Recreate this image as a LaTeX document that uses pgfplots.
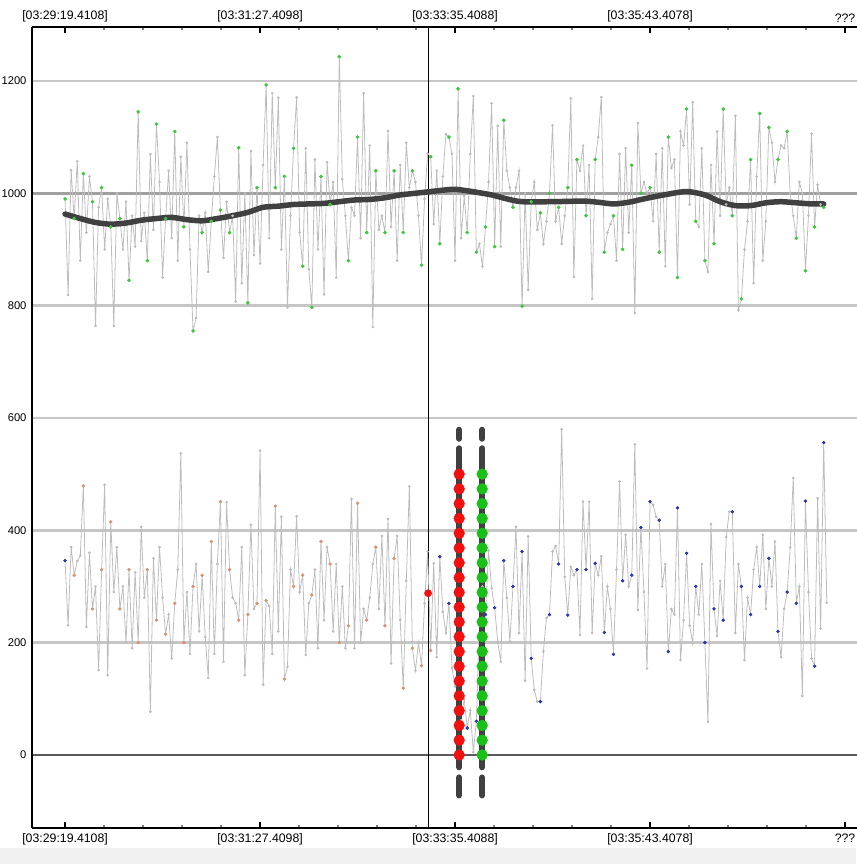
\documentclass[border=0pt]{standalone}
\usepackage{fontspec}
\setmainfont{Liberation Sans}
\usepackage{pgfplots}
\usepackage{pgfplotstable}
\pgfplotsset{compat=1.18}
\definecolor{gridc}{HTML}{C6C6C6}
\definecolor{gridd}{HTML}{A0A0A0}
\definecolor{zeroc}{HTML}{5A5A5A}
\definecolor{linec}{HTML}{BDBDBD}
\definecolor{markc}{HTML}{9A9A9A}
\definecolor{greenm}{HTML}{3CC83C}
\definecolor{orangem}{HTML}{DC9470}
\definecolor{bluem}{HTML}{2A34B0}
\definecolor{avgc}{HTML}{404040}
\definecolor{reddot}{HTML}{F01010}
\definecolor{greendot}{HTML}{18C018}
\definecolor{stripc}{HTML}{F0F0F0}

\pgfplotstableread[row sep=\\]{
t y\\
0 990\\ 2 819\\ 4 1041\\ 6 955\\ 8 1057\\ 10 880\\ 12 1035\\ 14 930\\ 16 1030\\ 18 985\\
20 764\\ 22 975\\ 24 1010\\ 26 900\\ 28 990\\ 30 940\\ 32 764\\ 34 1000\\ 36 955\\ 38 900\\
40 985\\ 42 845\\ 44 960\\ 46 905\\ 48 1145\\ 50 915\\ 52 965\\ 54 880\\ 56 1070\\ 58 935\\
60 1123\\ 62 1020\\ 64 850\\ 66 955\\ 68 1040\\ 70 920\\ 72 1110\\ 74 880\\ 76 1065\\ 78 940\\
80 1090\\ 82 900\\ 84 755\\ 86 778\\ 88 960\\ 90 930\\ 92 965\\ 94 860\\ 96 950\\ 98 1030\\
100 1100\\ 102 970\\ 104 885\\ 106 985\\ 108 930\\ 110 960\\ 112 807\\ 114 1081\\ 116 840\\ 118 1000\\
120 805\\ 122 1075\\ 124 890\\ 126 1010\\ 128 875\\ 130 1050\\ 132 1193\\ 134 920\\ 136 1178\\ 138 1010\\
140 1170\\ 142 900\\ 144 1030\\ 146 797\\ 148 960\\ 150 1080\\ 152 1171\\ 154 930\\ 156 870\\ 158 1080\\
160 865\\ 162 797\\ 164 1060\\ 166 900\\ 168 1030\\ 170 820\\ 172 1055\\ 174 980\\ 176 1020\\ 178 850\\
180 1243\\ 182 1025\\ 184 960\\ 186 880\\ 188 975\\ 190 960\\ 192 1100\\ 194 920\\ 196 1178\\ 198 930\\
200 1085\\ 202 762\\ 204 1040\\ 206 935\\ 208 960\\ 210 930\\ 212 1111\\ 214 940\\ 216 1040\\ 218 880\\
220 1050\\ 222 930\\ 224 1090\\ 226 1010\\ 228 1040\\ 230 1020\\ 232 960\\ 234 872\\ 236 990\\ 238 1071\\
240 1065\\ 242 945\\ 244 1040\\ 246 910\\ 248 1030\\ 250 1105\\ 252 1100\\ 254 1070\\ 256 880\\ 258 1186\\
260 920\\ 262 995\\ 264 930\\ 266 1070\\ 268 1173\\ 270 895\\ 272 910\\ 274 870\\ 276 940\\ 278 1020\\
280 1160\\ 282 905\\ 284 1120\\ 286 905\\ 288 1130\\ 290 1040\\ 292 1010\\ 294 975\\ 296 1010\\ 298 1040\\
300 799\\ 302 1000\\ 304 828\\ 306 985\\ 308 1020\\ 310 935\\ 312 965\\ 314 910\\ 316 950\\ 318 1000\\
320 1121\\ 322 950\\ 324 975\\ 326 910\\ 328 960\\ 330 1010\\ 332 1169\\ 334 851\\ 336 1060\\ 338 1040\\
340 1085\\ 342 960\\ 344 1050\\ 346 812\\ 348 1060\\ 350 1100\\ 352 1171\\ 354 895\\ 356 930\\ 358 945\\
360 960\\ 362 880\\ 364 1070\\ 366 900\\ 368 1080\\ 370 930\\ 372 1050\\ 374 787\\ 376 1125\\ 378 1000\\
380 1020\\ 382 1000\\ 384 1010\\ 386 950\\ 388 1070\\ 390 895\\ 392 1080\\ 394 870\\ 396 1100\\ 398 1045\\
400 1060\\ 402 850\\ 404 1110\\ 406 1085\\ 408 1150\\ 410 980\\ 412 1162\\ 414 950\\ 416 940\\ 418 1080\\
420 880\\ 422 860\\ 424 1050\\ 426 910\\ 428 1110\\ 430 960\\ 432 1150\\ 434 980\\ 436 1010\\ 438 960\\
440 1138\\ 442 792\\ 444 812\\ 446 900\\ 448 950\\ 450 1060\\ 452 840\\ 454 1030\\ 456 1142\\ 458 880\\
460 950\\ 462 1117\\ 464 1090\\ 466 1020\\ 468 1060\\ 470 1085\\ 472 1080\\ 474 1110\\ 476 1000\\ 478 960\\
480 920\\ 482 1020\\ 484 1000\\ 486 862\\ 488 960\\ 490 1106\\ 492 940\\ 494 1015\\ 496 980\\ 498 975\\
}\topdata

\pgfplotstableread[row sep=\\]{
t y\\
0 346\\ 2 231\\ 4 370\\ 6 320\\ 8 345\\ 10 355\\ 12 479\\ 14 228\\ 16 360\\ 18 260\\
20 300\\ 22 151\\ 24 330\\ 26 481\\ 28 142\\ 30 415\\ 32 290\\ 34 370\\ 36 260\\ 38 300\\
40 200\\ 42 330\\ 44 190\\ 46 325\\ 48 200\\ 50 406\\ 52 280\\ 54 330\\ 56 77\\ 58 350\\
60 240\\ 62 370\\ 64 280\\ 66 215\\ 68 250\\ 70 172\\ 72 270\\ 74 330\\ 76 537\\ 78 200\\
80 290\\ 82 180\\ 84 300\\ 86 340\\ 88 220\\ 90 320\\ 92 210\\ 94 137\\ 96 380\\ 98 180\\
100 340\\ 102 451\\ 104 166\\ 106 450\\ 108 330\\ 110 280\\ 112 270\\ 114 240\\ 116 370\\ 118 142\\
120 250\\ 122 410\\ 124 260\\ 126 270\\ 128 542\\ 130 125\\ 132 275\\ 134 265\\ 136 180\\ 138 443\\
140 220\\ 142 424\\ 144 135\\ 146 157\\ 148 330\\ 150 300\\ 152 425\\ 154 290\\ 156 320\\ 158 178\\
160 270\\ 162 285\\ 164 330\\ 166 190\\ 168 380\\ 170 240\\ 172 370\\ 174 340\\ 176 220\\ 178 340\\
180 200\\ 182 300\\ 184 190\\ 186 230\\ 188 456\\ 190 190\\ 192 448\\ 194 200\\ 196 260\\ 198 240\\
200 280\\ 202 340\\ 204 370\\ 206 260\\ 208 390\\ 210 230\\ 212 420\\ 214 163\\ 216 350\\ 218 390\\
220 240\\ 222 119\\ 224 310\\ 226 478\\ 228 190\\ 230 150\\ 232 200\\ 234 159\\ 236 270\\ 238 362\\
240 186\\ 242 341\\ 244 174\\ 246 353\\ 248 255\\ 250 217\\ 252 270\\ 254 155\\ 256 122\\ 258 137\\
260 62\\ 262 100\\ 264 48\\ 266 80\\ 268 5\\ 270 60\\ 272 230\\ 274 300\\ 276 250\\ 278 364\\
280 297\\ 282 262\\ 284 202\\ 286 166\\ 288 346\\ 290 280\\ 292 202\\ 294 300\\ 296 406\\ 298 217\\
300 362\\ 302 132\\ 304 389\\ 306 172\\ 308 116\\ 310 95\\ 312 95\\ 314 184\\ 316 244\\ 318 250\\
320 362\\ 322 372\\ 324 340\\ 326 580\\ 328 317\\ 330 249\\ 332 335\\ 334 320\\ 336 330\\ 338 214\\
340 451\\ 342 330\\ 344 451\\ 346 217\\ 348 341\\ 350 320\\ 352 354\\ 354 218\\ 356 300\\ 358 260\\
360 179\\ 362 330\\ 364 487\\ 366 310\\ 368 392\\ 370 300\\ 372 320\\ 374 553\\ 376 258\\ 378 405\\
380 290\\ 382 154\\ 384 451\\ 386 445\\ 388 424\\ 390 418\\ 392 300\\ 394 340\\ 396 184\\ 398 260\\
400 250\\ 402 440\\ 404 169\\ 406 240\\ 408 359\\ 410 230\\ 412 199\\ 414 300\\ 416 250\\ 418 340\\
420 200\\ 422 59\\ 424 411\\ 426 260\\ 428 212\\ 430 310\\ 432 240\\ 434 388\\ 436 433\\ 438 433\\
440 217\\ 442 340\\ 444 300\\ 446 169\\ 448 280\\ 450 250\\ 452 330\\ 454 370\\ 456 300\\ 458 392\\
460 260\\ 462 350\\ 464 300\\ 466 380\\ 468 220\\ 470 174\\ 472 260\\ 474 290\\ 476 369\\ 478 493\\
480 270\\ 482 300\\ 484 105\\ 486 452\\ 488 290\\ 490 172\\ 492 158\\ 494 457\\ 496 225\\ 498 556\\
500 271\\
}\botdata

\pgfplotsset{
  myaxis/.style={
    at={(0pt,0pt)}, anchor=south west, scale only axis,
    width=840pt, height=801pt,
    xmin=-21.7, xmax=529.7, ymin=-130, ymax=1296,
    axis x line=box, axis y line=left,
    axis line style={-, line width=2.2pt, black},
    xtick={0,128,256,384,512}, minor x tick num=4,
    xticklabels={{[03:29:19.4108]},{[03:31:27.4098]},{[03:33:35.4088]},{[03:35:43.4078]},{???}},
    major x tick style={line width=1.8pt, black},
    minor x tick style={line width=1.2pt, gray},
    major tick length=6pt, minor tick length=3pt,
    tick align=inside,
    xticklabel style={font=\fontsize{12.3pt}{14pt}\selectfont, text=black},
    yticklabel style={font=\fontsize{11.2pt}{13pt}\selectfont, text=black, xshift=-2pt},
    /pgf/number format/assume math mode=true,
    /pgf/number format/1000 sep={},
    ytick style={draw=none},
    clip=true,
  }
}

\begin{document}
\begin{tikzpicture}
\begin{axis}[myaxis,
    ytick={200,400,600,800,1000,1200},
    extra y ticks={0},
    extra y tick style={grid style={color=zeroc, line width=2.6pt}},
    ymajorgrids, grid style={color=gridc, line width=2.6pt},
    xticklabel style={yshift=-2pt},
    unbounded coords=jump,
  ]
  % darker 1000 line
  \addplot[color=gridd, line width=2.6pt, forget plot] coordinates {(-30,1000) (540,1000)};
  % cursor line
  \addplot[black, line width=1.1pt] coordinates {(238.3,-200) (238.3,1400)};
  % top series
  \addplot[color=linec, line width=0.8pt, mark=*, mark size=0.9pt,
           mark options={fill=markc, draw=none}] table {\topdata};
  \addplot[only marks, color=greenm, mark=*, mark size=1.6pt, mark options={fill=greenm, draw=none},
           each nth point=3] table {\topdata};
  % moving average
  \addplot[smooth, color=avgc, line width=5.5pt, line cap=round] coordinates {
    (0,963) (10,955) (20,948) (30,945) (40,947) (50,952) (60,955) (70,957) (80,953)
    (90,951) (100,955) (110,960) (120,966) (130,975) (140,977) (150,980) (160,981)
    (170,982) (180,985) (190,988) (200,989) (210,992) (220,997) (230,1000) (240,1003)
    (250,1006) (256,1007) (265,1004) (280,997) (290,990) (300,985) (320,985) (340,986)
    (350,984) (360,981) (370,984) (380,990) (395,998) (408,1003) (420,997) (430,985)
    (440,978) (450,978) (460,983) (470,985) (480,983) (490,981) (498,981)};
  % bottom series
  \addplot[color=linec, line width=0.8pt, mark=*, mark size=0.9pt,
           mark options={fill=markc, draw=none}] table {\botdata};
  \addplot[only marks, color=orangem, mark=*, mark size=1.5pt, mark options={fill=orangem, draw=none},
           each nth point=3, restrict x to domain=4:244] table {\botdata};
  \addplot[only marks, color=bluem, mark=*, mark size=1.5pt, mark options={fill=bluem, draw=none},
           each nth point=3, restrict x to domain=246:500] table {\botdata};
  \addplot[only marks, color=bluem, mark=*, mark size=1.5pt, mark options={fill=bluem, draw=none}]
           coordinates {(0,346)};
  % single red point on the cursor
  \addplot[only marks, color=reddot, mark=*, mark size=3.6pt, mark options={fill=reddot, draw=none}]
           coordinates {(238.3,288)};
  % dashed columns
  \addplot[color=avgc, line width=6pt, line cap=round] coordinates {
    (258.7,579) (258.7,563) (258.7,nan) (258.7,546) (258.7,-22) (258.7,nan) (258.7,-40) (258.7,-72)};
  \addplot[color=avgc, line width=6pt, line cap=round] coordinates {
    (273.8,579) (273.8,563) (273.8,nan) (273.8,546) (273.8,-22) (273.8,nan) (273.8,-40) (273.8,-72)};
  \addplot[only marks, color=reddot, mark=*, mark size=5.4pt, mark options={fill=reddot, draw=none}] coordinates {
    (258.7,0) (258.7,26.3) (258.7,52.6) (258.7,78.9) (258.7,105.3) (258.7,131.6) (258.7,157.9)
    (258.7,184.2) (258.7,210.5) (258.7,236.8) (258.7,263.2) (258.7,289.5) (258.7,315.8)
    (258.7,342.1) (258.7,368.4) (258.7,394.7) (258.7,421.1) (258.7,447.4) (258.7,473.7) (258.7,500)};
  \addplot[only marks, color=greendot, mark=*, mark size=5.4pt, mark options={fill=greendot, draw=none}] coordinates {
    (273.8,0) (273.8,26.3) (273.8,52.6) (273.8,78.9) (273.8,105.3) (273.8,131.6) (273.8,157.9)
    (273.8,184.2) (273.8,210.5) (273.8,236.8) (273.8,263.2) (273.8,289.5) (273.8,315.8)
    (273.8,342.1) (273.8,368.4) (273.8,394.7) (273.8,421.1) (273.8,447.4) (273.8,473.7) (273.8,500)};
\end{axis}
\begin{axis}[myaxis, xticklabel pos=upper, ytick=\empty, xticklabel style={yshift=1pt}]
\end{axis}
\fill[stripc] (-32pt,-36pt) rectangle (824pt,-20pt);
\pgfresetboundingbox
\path (-32pt,-36pt) rectangle (824pt,828pt);
\end{tikzpicture}
\end{document}
